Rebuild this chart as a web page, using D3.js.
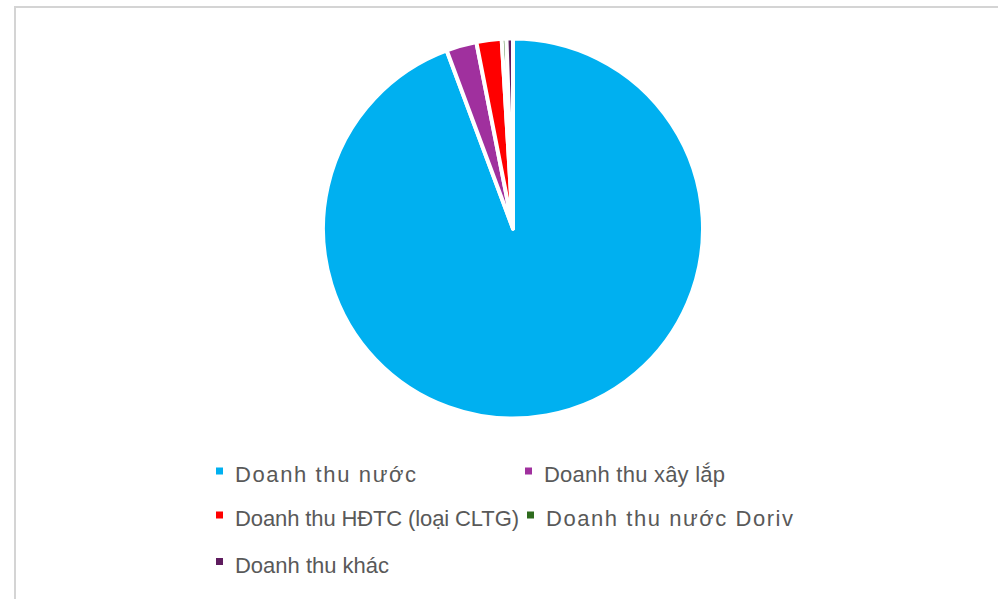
<!DOCTYPE html>
<html>
<head>
<meta charset="utf-8">
<script src="https://cdn.jsdelivr.net/npm/d3@7"></script>
<style>
html,body{margin:0;padding:0;background:#ffffff;}
svg{display:block;}
</style>
</head>
<body>
<svg id="chart" width="998" height="599"></svg>
<script>
const categories = ["Doanh thu nước", "Doanh thu xây lắp", "Doanh thu HĐTC (loại CLTG)", "Doanh thu nước Doriv", "Doanh thu khác"];
const values = [94.33, 2.58, 2.14, 0.40, 0.55];
const colors = ["#00B0F0", "#A0309E", "#FF0000", "#2E6B1E", "#5E1C5E"];
const legendWidths = [181, 181, 284, 247, 154];

const svg = d3.select("#chart");

// chart area border
svg.append("rect")
  .attr("x", 15).attr("y", 7)
  .attr("width", 1100).attr("height", 700)
  .attr("fill", "#ffffff")
  .attr("stroke", "#d4d4d4").attr("stroke-width", 2);

const cx = 513, cy = 228.5, r = 190;
const data = categories.map((c, i) => ({name: c, value: values[i], color: colors[i]}));

const pie = d3.pie().sort(null).value(d => d.value).startAngle(0).endAngle(2 * Math.PI);
const arc = d3.arc().innerRadius(0).outerRadius(r);

const g = svg.append("g").attr("transform", `translate(${cx},${cy})`);
g.selectAll("path")
  .data(pie(data))
  .join("path")
  .attr("d", arc)
  .attr("fill", d => d.data.color)
  .attr("stroke", "#ffffff")
  .attr("stroke-width", 4)
  .attr("stroke-linejoin", "round");

// legend
const legendPos = [
  {x: 216, y: 482},
  {x: 525, y: 482},
  {x: 216, y: 526},
  {x: 527, y: 526},
  {x: 216, y: 572.5}
];
const lg = svg.append("g");
data.forEach((d, i) => {
  const p = legendPos[i];
  lg.append("rect")
    .attr("x", p.x).attr("y", p.y - 14.5)
    .attr("width", 7).attr("height", 7)
    .attr("fill", d.color);
  lg.append("text")
    .attr("x", p.x + 19).attr("y", p.y)
    .attr("font-family", "Liberation Sans, Arial, sans-serif")
    .attr("font-size", 22)
    .attr("fill", "#595959")
    .attr("textLength", legendWidths[i])
    .attr("lengthAdjust", "spacing")
    .text(d.name);
});
</script>
</body>
</html>
